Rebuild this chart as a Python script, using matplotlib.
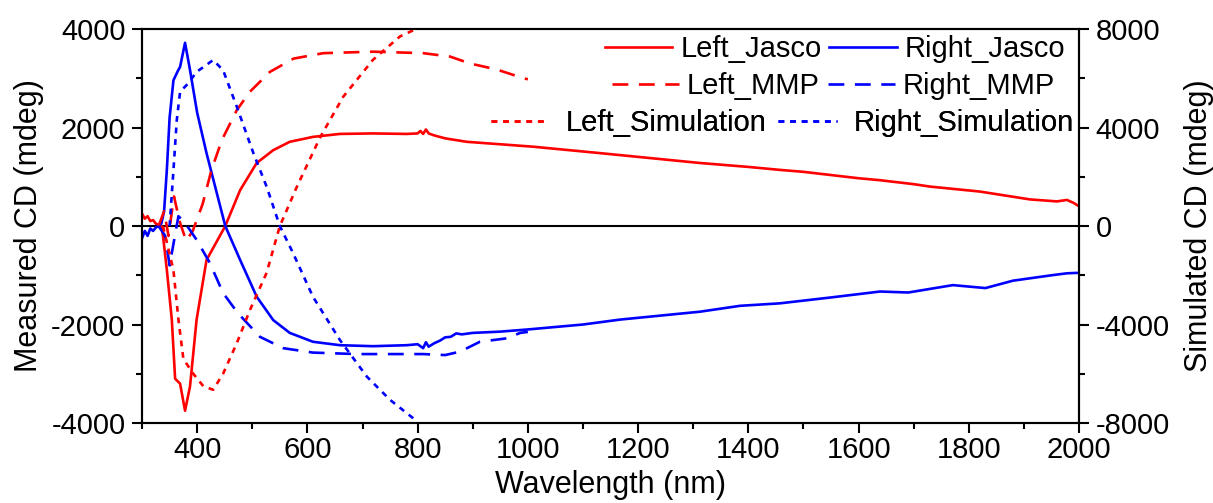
import matplotlib
matplotlib.use("Agg")
import matplotlib.pyplot as plt
from matplotlib.ticker import MultipleLocator

plt.rcParams['font.family'] = ['Liberation Sans', 'DejaVu Sans']
plt.rcParams['axes.unicode_minus'] = False

# measured, Jasco (left axis, mdeg)
wl_lj = [300, 305, 310, 315, 320, 325, 330, 335, 338, 345, 354, 360, 369, 378, 387, 399, 417,
         451, 478, 508, 538, 568, 610, 659, 719, 780, 800, 805, 810, 815, 820, 830, 850, 889,
         950, 1010, 1131, 1312, 1400, 1457, 1500, 1600, 1639, 1700, 1730, 1820, 1911, 1960,
         1978, 1990, 2000]
left_jasco = [250, 150, 200, 100, 120, 50, 20, 0, -200, -890, -1900, -3100, -3200, -3750, -3260,
              -1900, -690, 0, 730, 1280, 1540, 1710, 1810, 1870, 1880, 1870, 1880, 1930, 1870,
              1960, 1880, 1840, 1780, 1710, 1660, 1610, 1480, 1280, 1200, 1140, 1100, 970, 930,
              850, 800, 700, 540, 500, 530, 470, 400]

wl_rj = [300, 305, 310, 315, 320, 325, 330, 335, 340, 345, 350, 357, 365, 369, 378, 387, 400,
         417, 451, 478, 508, 538, 568, 610, 659, 719, 780, 800, 810, 815, 820, 830, 840, 850,
         860, 870, 880, 900, 949, 1000, 1100, 1167, 1312, 1385, 1457, 1550, 1639, 1690, 1771,
         1830, 1880, 1950, 1978, 2000]
right_jasco = [-250, -100, -200, -50, -100, -30, 0, 50, 300, 1140, 2200, 2960, 3150, 3230, 3720,
               3170, 2300, 1480, 0, -690, -1435, -1910, -2170, -2350, -2420, -2440, -2420, -2400,
               -2480, -2360, -2450, -2380, -2330, -2260, -2250, -2180, -2200, -2170, -2145, -2100,
               -2000, -1900, -1740, -1620, -1570, -1450, -1330, -1350, -1200, -1260, -1110, -1000,
               -960, -950]

# measured, MMP (left axis, mdeg)
wl_lm = [330, 340, 348, 358, 368, 380, 392, 410, 426, 445, 472, 496, 532, 575, 629, 719, 810,
         859, 895, 943, 992, 1000]
left_mmp = [0, 300, -200, 600, 100, -300, -100, 450, 1140, 1750, 2355, 2730, 3130, 3400, 3510,
            3540, 3510, 3440, 3300, 3180, 3000, 2980]

wl_rm = [330, 342, 350, 358, 366, 375, 385, 399, 423, 447, 474, 514, 556, 610, 689, 810, 850,
         877, 913, 962, 986, 1000]
right_mmp = [0, -200, -800, -300, 200, 100, -50, -280, -750, -1360, -1770, -2250, -2480, -2570,
             -2600, -2600, -2620, -2550, -2350, -2280, -2170, -2150]

# simulation (right axis, mdeg)
wl_ls = [338, 357, 366, 375, 393, 411, 429, 447, 472, 496, 526, 550, 581, 623, 665, 719, 768,
         801, 830]
left_sim = [0, -1800, -3800, -5400, -6000, -6500, -6650, -6000, -4750, -3400, -1900, 0, 1600,
            3600, 5250, 6750, 7700, 8040, 8600]

wl_rs = [350, 357, 363, 369, 384, 399, 429, 447, 472, 502, 526, 550, 574, 610, 659, 708, 750,
         800]
right_sim = [0, 2270, 4300, 5450, 5800, 6260, 6740, 6330, 4840, 2960, 1600, 0, -1100, -2870,
             -4630, -6120, -7060, -7950]

fig = plt.figure(figsize=(12.13, 5.03), dpi=100)
ax = fig.add_axes([0.1171, 0.159, 0.7725, 0.7833])
ax2 = ax.twinx()

lw = 1.9
dash = (6, 4)
dot = (2.2, 2.2)
ax.axhline(0, color='k', lw=1.5, zorder=1)
h_lj, = ax.plot(wl_lj, left_jasco, color='#ff0000', lw=lw)
h_rj, = ax.plot(wl_rj, right_jasco, color='#0000ff', lw=lw)
h_lm, = ax.plot(wl_lm, left_mmp, color='#ff0000', lw=lw, dashes=dash)
h_rm, = ax.plot(wl_rm, right_mmp, color='#0000ff', lw=lw, dashes=dash)
h_ls, = ax2.plot(wl_ls, left_sim, color='#ff0000', lw=lw, dashes=dot)
h_rs, = ax2.plot(wl_rs, right_sim, color='#0000ff', lw=lw, dashes=dot)

ax.set_xlim(300, 2000)
ax.set_ylim(-4000, 4000)
ax2.set_ylim(-8000, 8000)

ax.xaxis.set_major_locator(MultipleLocator(200))
ax.xaxis.set_minor_locator(MultipleLocator(100))
ax.yaxis.set_major_locator(MultipleLocator(2000))
ax.yaxis.set_minor_locator(MultipleLocator(1000))
ax2.yaxis.set_major_locator(MultipleLocator(4000))
ax2.yaxis.set_minor_locator(MultipleLocator(2000))

for a in (ax, ax2):
    for s in a.spines.values():
        s.set_linewidth(1.5)
    a.tick_params(which='major', direction='out', length=7, width=1.5, labelsize=21, pad=5)
    a.tick_params(which='minor', direction='out', length=4, width=1.5)
ax.tick_params(axis='x', which='both', top=False)
ax.tick_params(axis='x', which='major', pad=2)

ax.set_xlabel('Wavelength (nm)', fontsize=22, labelpad=5)
ax.set_ylabel('Measured CD (mdeg)', fontsize=22, labelpad=5)
ax2.set_ylabel('Simulated CD (mdeg)', fontsize=22, labelpad=10, rotation=90)

# legend rows, right aligned like the original
rows = [
    ([h_lj, h_rj], ['Left_Jasco', 'Right_Jasco'], 0.985, 0.949, 2.3, 0.27, 0.27),
    ([h_lm, h_rm], ['Left_MMP', 'Right_MMP'], 0.974, 0.855, 2.3, 0.27, 0.27),
    ([h_ls, h_rs], ['Left_Simulation', 'Right_Simulation'], 0.994, 0.761, 2.0, 0.57, 0.4),
]
for hs, labels, xr, yr, hl, tp, cs in rows:
    leg = ax2.legend(hs, labels, ncol=2, loc='center right', bbox_to_anchor=(xr, yr),
                     bbox_transform=ax2.transAxes, frameon=False, fontsize=21,
                     handlelength=hl, handletextpad=tp, columnspacing=cs,
                     borderpad=0, borderaxespad=0)
    ax2.add_artist(leg)

fig.savefig('out.png', dpi=100)
